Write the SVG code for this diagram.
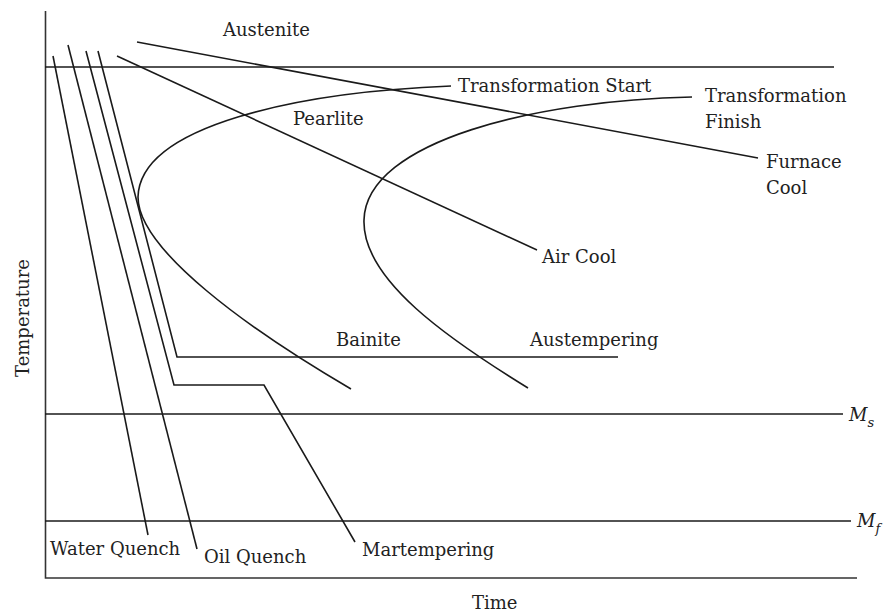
<svg xmlns="http://www.w3.org/2000/svg" width="885" height="614" viewBox="0 0 885 614">
<style>
.ln{fill:none;stroke:#1a1a1a;stroke-width:1.6;stroke-linejoin:miter}
.ax{fill:none;stroke:#333;stroke-width:1.6}
.t{font-family:"DejaVu Serif","Liberation Serif",serif;font-size:18px;fill:#222}
.it{font-style:italic}
</style>
<rect width="885" height="614" fill="#fff"/>
<g id="axes">
<path class="ax" d="M45.5,11 V578 H857"/>
<text class="t" x="472" y="609">Time</text>
<text class="t" transform="translate(29,318) rotate(-90)" text-anchor="middle">Temperature</text>
</g>
<g id="levels">
<line class="ln" x1="45" y1="67" x2="834" y2="67"/>
<line class="ln" x1="45" y1="414" x2="843" y2="414"/>
<line class="ln" x1="45" y1="521" x2="851" y2="521"/>
<text class="t it" x="849" y="421">M<tspan font-size="13" dy="6">s</tspan></text>
<text class="t it" x="857" y="527">M<tspan font-size="13" dy="6">f</tspan></text>
</g>
<g id="regions">
<text class="t" x="223" y="36">Austenite</text>
<text class="t" x="293" y="125">Pearlite</text>
<text class="t" x="336" y="346">Bainite</text>
</g>
<g id="transformation-start">
<path class="ln" d="M451,86 C300,92 140,125 138,197 C138,250 250,330 351,389"/>
<text class="t" x="458" y="92">Transformation Start</text>
</g>
<g id="transformation-finish">
<path class="ln" d="M692,97 C540,100 366,140 364,220 C362,280 450,340 528,388"/>
<text class="t" x="705" y="102">Transformation</text>
<text class="t" x="705" y="128">Finish</text>
</g>
<g id="connectors">
<line class="ln" x1="53" y1="56" x2="148" y2="535"/>
<line class="ln" x1="68" y1="45" x2="197" y2="549"/>
<polyline class="ln" points="86,51 174,385 264,385 355,542"/>
<polyline class="ln" points="98,51 177,357 618,357"/>
<line class="ln" x1="117" y1="56" x2="537" y2="250"/>
<line class="ln" x1="137" y1="42" x2="758" y2="158"/>
</g>
<g id="cooling-labels">
<text class="t" x="50" y="555" font-size="16">Water Quench</text>
<text class="t" x="204" y="563" font-size="19">Oil Quench</text>
<text class="t" x="362" y="556">Martempering</text>
<text class="t" x="530" y="346">Austempering</text>
<text class="t" x="542" y="263">Air Cool</text>
<text class="t" x="766" y="168">Furnace</text>
<text class="t" x="766" y="194">Cool</text>
</g>
</svg>
